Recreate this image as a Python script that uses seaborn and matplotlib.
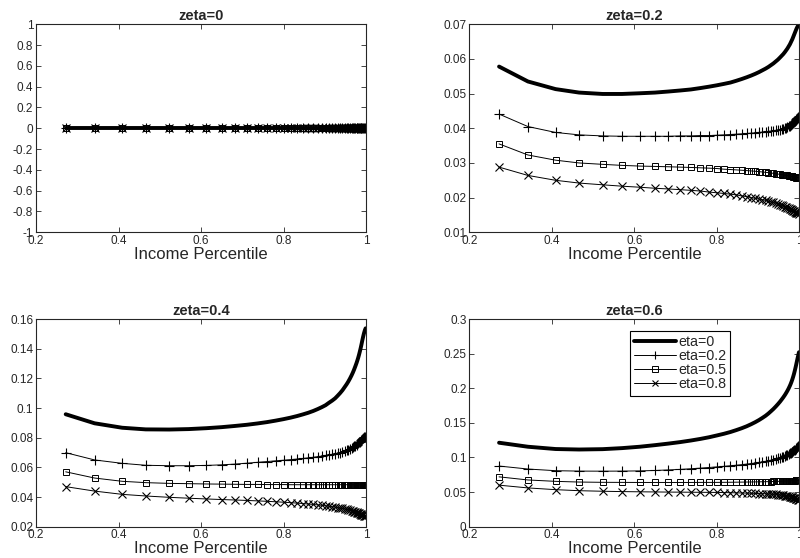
import matplotlib
matplotlib.use("Agg")
import matplotlib.pyplot as plt
from matplotlib.ticker import FuncFormatter, MultipleLocator
import seaborn as sns

# ---------------- data ----------------
X = [0.272, 0.342, 0.409, 0.466, 0.523, 0.570, 0.613, 0.650, 0.682, 0.711,
     0.737, 0.760, 0.781, 0.800, 0.817, 0.833, 0.847, 0.860, 0.872, 0.883,
     0.893, 0.902, 0.910, 0.918, 0.925, 0.931, 0.937, 0.943, 0.948, 0.953,
     0.957, 0.961, 0.965, 0.968, 0.971, 0.974, 0.977, 0.979, 0.981, 0.983,
     0.985, 0.987, 0.989, 0.991, 0.993, 0.995, 0.997, 0.999]

ETA_LABELS = ["eta=0", "eta=0.2", "eta=0.5", "eta=0.8"]
PANEL_TITLES = ["zeta=0", "zeta=0.2", "zeta=0.4", "zeta=0.6"]
XLABEL = "Income Percentile"

Z0 = [0.0, 0.0, 0.0, 0.0, 0.0, 0.0, 0.0, 0.0, 0.0, 0.0, 0.0, 0.0, 0.0, 0.0, 0.0, 0.0,
      0.0, 0.0, 0.0, 0.0, 0.0, 0.0, 0.0, 0.0, 0.0, 0.0, 0.0, 0.0, 0.0, 0.0, 0.0, 0.0,
      0.0, 0.0, 0.0, 0.0, 0.0, 0.0, 0.0, 0.0, 0.0, 0.0, 0.0, 0.0, 0.0, 0.0, 0.0, 0.0]

Z2_E0 = [0.0578, 0.0535, 0.0513, 0.0503, 0.0499, 0.0499, 0.0501, 0.0503, 0.0506, 0.0509,
         0.0512, 0.0516, 0.0520, 0.0524, 0.0528, 0.0532, 0.0537, 0.0542, 0.0547, 0.0552,
         0.0557, 0.0562, 0.0567, 0.0572, 0.0577, 0.0582, 0.0587, 0.0593, 0.0598, 0.0604,
         0.0609, 0.0614, 0.0620, 0.0625, 0.0630, 0.0636, 0.0642, 0.0647, 0.0652, 0.0657,
         0.0663, 0.0669, 0.0675, 0.0681, 0.0687, 0.0692, 0.0696, 0.0699]
Z2_E2 = [0.0441, 0.0405, 0.0388, 0.0381, 0.0378, 0.0377, 0.0377, 0.0377, 0.0377, 0.0378,
         0.0378, 0.0379, 0.0379, 0.0380, 0.0381, 0.0382, 0.0383, 0.0384, 0.0385, 0.0386,
         0.0387, 0.0388, 0.0389, 0.0390, 0.0391, 0.0392, 0.0393, 0.0394, 0.0395, 0.0396,
         0.0398, 0.0399, 0.0401, 0.0402, 0.0404, 0.0406, 0.0408, 0.0410, 0.0412, 0.0414,
         0.0416, 0.0419, 0.0421, 0.0424, 0.0427, 0.0430, 0.0433, 0.0436]
Z2_E5 = [0.0355, 0.0323, 0.0308, 0.0300, 0.0296, 0.0293, 0.0291, 0.0290, 0.0289, 0.0288,
         0.0287, 0.0286, 0.0285, 0.0284, 0.0282, 0.0281, 0.0280, 0.0279, 0.0278, 0.0277,
         0.0276, 0.0275, 0.0274, 0.0273, 0.0272, 0.0271, 0.0270, 0.0269, 0.0268, 0.0267,
         0.0266, 0.0266, 0.0265, 0.0264, 0.0264, 0.0263, 0.0262, 0.0262, 0.0261, 0.0261,
         0.0260, 0.0260, 0.0259, 0.0259, 0.0258, 0.0258, 0.0257, 0.0257]
Z2_E8 = [0.0288, 0.0264, 0.0250, 0.0242, 0.0237, 0.0233, 0.0230, 0.0227, 0.0225, 0.0223,
         0.0221, 0.0219, 0.0216, 0.0214, 0.0212, 0.0210, 0.0208, 0.0205, 0.0203, 0.0200,
         0.0198, 0.0196, 0.0194, 0.0192, 0.0190, 0.0188, 0.0186, 0.0184, 0.0182, 0.0180,
         0.0178, 0.0176, 0.0174, 0.0173, 0.0171, 0.0169, 0.0167, 0.0166, 0.0164, 0.0163,
         0.0161, 0.0160, 0.0159, 0.0158, 0.0157, 0.0156, 0.0155, 0.0154]

Z4_E0 = [0.0958, 0.0897, 0.0867, 0.0856, 0.0855, 0.0858, 0.0864, 0.0871, 0.0879, 0.0887,
         0.0896, 0.0905, 0.0915, 0.0925, 0.0935, 0.0946, 0.0957, 0.0968, 0.0980, 0.0993,
         0.1006, 0.1019, 0.1035, 0.1050, 0.1065, 0.1082, 0.1100, 0.1120, 0.1140, 0.1160,
         0.1178, 0.1198, 0.1220, 0.1238, 0.1258, 0.1280, 0.1303, 0.1320, 0.1338, 0.1358,
         0.1380, 0.1403, 0.1428, 0.1455, 0.1480, 0.1503, 0.1522, 0.1537]
Z4_E2 = [0.0699, 0.0650, 0.0627, 0.0614, 0.0611, 0.0611, 0.0613, 0.0617, 0.0622, 0.0628,
         0.0634, 0.0639, 0.0644, 0.0648, 0.0652, 0.0656, 0.0660, 0.0664, 0.0668, 0.0672,
         0.0676, 0.0680, 0.0684, 0.0688, 0.0692, 0.0696, 0.0700, 0.0705, 0.0710, 0.0715,
         0.0720, 0.0725, 0.0731, 0.0736, 0.0741, 0.0747, 0.0753, 0.0758, 0.0763, 0.0768,
         0.0774, 0.0780, 0.0786, 0.0792, 0.0798, 0.0803, 0.0807, 0.0810]
Z4_E5 = [0.0570, 0.0528, 0.0506, 0.0497, 0.0492, 0.0490, 0.0488, 0.0487, 0.0486, 0.0485,
         0.0485, 0.0484, 0.0484, 0.0484, 0.0483, 0.0483, 0.0483, 0.0483, 0.0483, 0.0483,
         0.0483, 0.0483, 0.0483, 0.0483, 0.0483, 0.0483, 0.0483, 0.0483, 0.0483, 0.0483,
         0.0483, 0.0483, 0.0483, 0.0483, 0.0483, 0.0482, 0.0482, 0.0482, 0.0482, 0.0482,
         0.0482, 0.0482, 0.0482, 0.0482, 0.0482, 0.0482, 0.0482, 0.0482]
Z4_E8 = [0.0470, 0.0440, 0.0418, 0.0407, 0.0398, 0.0392, 0.0387, 0.0383, 0.0380, 0.0377,
         0.0374, 0.0371, 0.0368, 0.0365, 0.0362, 0.0359, 0.0356, 0.0353, 0.0350, 0.0347,
         0.0344, 0.0341, 0.0338, 0.0335, 0.0332, 0.0329, 0.0326, 0.0323, 0.0320, 0.0317,
         0.0314, 0.0311, 0.0308, 0.0305, 0.0302, 0.0299, 0.0296, 0.0294, 0.0291, 0.0289,
         0.0286, 0.0284, 0.0281, 0.0279, 0.0277, 0.0275, 0.0273, 0.0271]

Z6_E0 = [0.1213, 0.1155, 0.1122, 0.1115, 0.1120, 0.1135, 0.1155, 0.1178, 0.1200, 0.1222,
         0.1245, 0.1268, 0.1292, 0.1318, 0.1342, 0.1368, 0.1395, 0.1422, 0.1450, 0.1480,
         0.1510, 0.1540, 0.1570, 0.1602, 0.1635, 0.1667, 0.1700, 0.1737, 0.1770, 0.1805,
         0.1836, 0.1868, 0.1903, 0.1932, 0.1963, 0.1997, 0.2035, 0.2063, 0.2094, 0.2128,
         0.2166, 0.2208, 0.2255, 0.2305, 0.2360, 0.2415, 0.2468, 0.2520]
Z6_E2 = [0.0876, 0.0833, 0.0809, 0.0803, 0.0802, 0.0803, 0.0806, 0.0812, 0.0820, 0.0828,
         0.0837, 0.0846, 0.0855, 0.0864, 0.0872, 0.0880, 0.0888, 0.0896, 0.0904, 0.0912,
         0.0920, 0.0928, 0.0936, 0.0944, 0.0952, 0.0960, 0.0968, 0.0977, 0.0986, 0.0995,
         0.1003, 0.1012, 0.1022, 0.1030, 0.1039, 0.1048, 0.1058, 0.1066, 0.1074, 0.1083,
         0.1092, 0.1102, 0.1113, 0.1124, 0.1136, 0.1148, 0.1160, 0.1172]
Z6_E5 = [0.0720, 0.0675, 0.0655, 0.0645, 0.0641, 0.0640, 0.0639, 0.0639, 0.0639, 0.0639,
         0.0639, 0.0640, 0.0640, 0.0640, 0.0641, 0.0642, 0.0643, 0.0644, 0.0645, 0.0646,
         0.0647, 0.0648, 0.0649, 0.0650, 0.0651, 0.0652, 0.0653, 0.0654, 0.0655, 0.0656,
         0.0657, 0.0658, 0.0659, 0.0660, 0.0661, 0.0662, 0.0663, 0.0664, 0.0665, 0.0665,
         0.0666, 0.0667, 0.0667, 0.0668, 0.0668, 0.0669, 0.0669, 0.0670]
Z6_E8 = [0.0600, 0.0560, 0.0535, 0.0520, 0.0512, 0.0507, 0.0504, 0.0502, 0.0500, 0.0499,
         0.0498, 0.0497, 0.0496, 0.0495, 0.0493, 0.0491, 0.0489, 0.0487, 0.0485, 0.0483,
         0.0481, 0.0479, 0.0477, 0.0475, 0.0473, 0.0471, 0.0469, 0.0466, 0.0463, 0.0460,
         0.0457, 0.0454, 0.0450, 0.0447, 0.0444, 0.0440, 0.0436, 0.0433, 0.0429, 0.0425,
         0.0421, 0.0416, 0.0411, 0.0406, 0.0401, 0.0396, 0.0391, 0.0386]

PANELS = [
    [Z0, Z0, Z0, Z0],
    [Z2_E0, Z2_E2, Z2_E5, Z2_E8],
    [Z4_E0, Z4_E2, Z4_E5, Z4_E8],
    [Z6_E0, Z6_E2, Z6_E5, Z6_E8],
]
YLIMS = [(-1, 1), (0.01, 0.07), (0.02, 0.16), (0, 0.3)]
YSTEPS = [0.2, 0.01, 0.02, 0.05]

# ---------------- style ----------------
sns.set_style("ticks")
plt.rcParams["font.family"] = ["Liberation Sans", "DejaVu Sans"]
plt.rcParams["axes.linewidth"] = 0.8
plt.rcParams["axes.edgecolor"] = "#262626"

STYLES = [
    dict(lw=2.8, marker=None),
    dict(lw=0.7, marker="+", markersize=7, markeredgewidth=0.8),
    dict(lw=0.7, marker="s", markersize=4.8, markeredgewidth=0.7, markerfacecolor="none"),
    dict(lw=0.7, marker="x", markersize=5.5, markeredgewidth=0.8),
]

fig = plt.figure(figsize=(8.0, 5.58), dpi=100)
positions = [
    [0.045, 0.5837, 0.4125, 0.3728],
    [0.5867, 0.5837, 0.4125, 0.3728],
    [0.045, 0.0561, 0.4125, 0.3722],
    [0.5867, 0.0561, 0.4125, 0.3722],
]

fmt = FuncFormatter(lambda v, p: ("%g" % round(v, 6)) if abs(v) > 1e-12 else "0")

for i, pos in enumerate(positions):
    ax = fig.add_axes(pos)
    for j, ys in enumerate(PANELS[i]):
        st = dict(STYLES[j])
        mk = st.pop("marker")
        kw = dict(color="black", label=ETA_LABELS[j], estimator=None, errorbar=None, ax=ax)
        if mk is not None:
            kw.update(marker=mk, markeredgecolor="black")
        sns.lineplot(x=X, y=ys, **kw, **st)
    ax.set_xlim(0.2, 1.0)
    ax.set_ylim(*YLIMS[i])
    ax.xaxis.set_major_locator(MultipleLocator(0.2))
    ax.yaxis.set_major_locator(MultipleLocator(YSTEPS[i]))
    ax.xaxis.set_major_formatter(fmt)
    ax.yaxis.set_major_formatter(fmt)
    ax.tick_params(direction="in", top=True, right=True, length=3.5, width=0.6,
                   labelsize=8.5, pad=2, colors="#262626", labelcolor="#262626")
    for s in ax.spines.values():
        s.set_visible(True)
        s.set_color("#262626")
    ax.set_title(PANEL_TITLES[i], fontsize=10.5, fontweight="bold", pad=3)
    ax.set_xlabel(XLABEL, fontsize=12, labelpad=0, color="#262626")
    ax.set_ylabel("")
    leg = ax.get_legend()
    if leg is not None:
        leg.remove()
    if i == 3:
        handles, labels = ax.get_legend_handles_labels()
        lg = ax.legend(handles[:4], labels[:4], loc="upper right",
                       bbox_to_anchor=(0.791, 0.942), borderaxespad=0,
                       fontsize=10.3, handlelength=2.9, handletextpad=0.15,
                       labelspacing=0.0, borderpad=0.3, fancybox=False,
                       framealpha=1, edgecolor="black", markerscale=0.8)
        lg.get_frame().set_linewidth(0.8)

fig.savefig("out.png", dpi=100)
